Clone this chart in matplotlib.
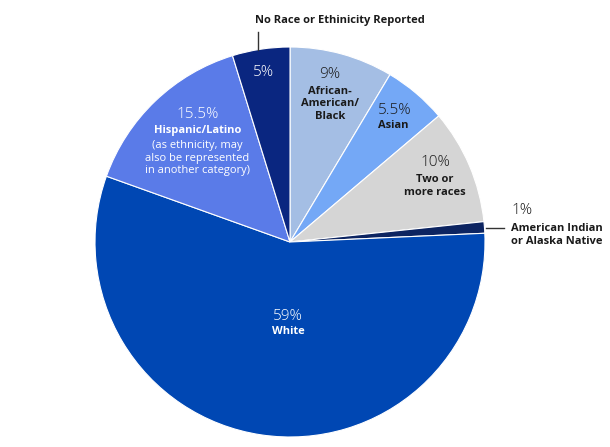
import matplotlib
matplotlib.use("Agg")
import matplotlib.pyplot as plt

plt.rcParams['font.family'] = ['Open Sans', 'DejaVu Sans']

categories = ["African-American/Black", "Asian", "Two or more races",
              "American Indian or Alaska Native", "White", "Hispanic/Latino",
              "No Race or Ethinicity Reported"]
values = [9, 5.5, 10, 1, 59, 15.5, 5]
pct_labels = ["9%", "5.5%", "10%", "1%", "59%", "15.5%", "5%"]
colors = ["#a4bee4", "#74a8f6", "#d5d5d5", "#0c2461", "#0047b3", "#5a7be8", "#0a2680"]

W, H = 610, 447
fig = plt.figure(figsize=(W / 100, H / 100), dpi=100)
cx, cy, R = 290, 242, 195
ax = fig.add_axes([(cx - R) / W, (H - cy - R) / H, 2 * R / W, 2 * R / H])
ax.pie(values, colors=colors, startangle=90, counterclock=False, radius=1,
       wedgeprops=dict(edgecolor="white", linewidth=0.8))
ax.set_xlim(-1, 1)
ax.set_ylim(-1, 1)
ax.set_aspect('equal')
ax.axis('off')


def P(px, py):
    return ((px - cx) / R, (cy - py) / R)


def txt(px, py, s, color, size, weight='normal', ha='center'):
    x, y = P(px, py)
    ax.text(x, y, s, color=color, fontsize=size, fontweight=weight,
            ha=ha, va='center', linespacing=1.2, clip_on=False)

dark = "#1a1a1a"
PS = 11
LS = 8
# African-American/Black
txt(330, 75, pct_labels[0], dark, PS, 'light')
txt(330, 104, "African-\nAmerican/\nBlack", dark, LS, 'bold')
# Asian
txt(395, 111, pct_labels[1], dark, PS, 'light')
txt(393, 126, "Asian", dark, LS, 'bold')
# Two or more
txt(435, 163, pct_labels[2], dark, PS, 'light')
txt(435, 186, "Two or\nmore races", dark, LS, 'bold')
# American Indian
txt(511, 211, pct_labels[3], dark, PS, 'light', ha='left')
txt(511, 235, "American Indian\nor Alaska Native", dark, LS, 'bold', ha='left')
x0, y0 = P(486, 228)
x1, y1 = P(504, 228)
ax.plot([x0, x1], [y0, y1], color="#333333", lw=1, clip_on=False)
# White
txt(288, 316, pct_labels[4], "white", PS, 'light')
txt(288, 332, "White", "white", LS, 'bold')
# Hispanic
txt(198, 114, pct_labels[5], "white", PS, 'light')
txt(198, 130, "Hispanic/Latino", "white", LS, 'bold')
txt(197, 158, "(as ethnicity, may\nalso be represented\nin another category)", "white", LS)
# No race
txt(263, 73, pct_labels[6], "white", PS, 'light')
txt(340, 21, "No Race or Ethinicity Reported", dark, LS, 'bold')
x0, y0 = P(258, 32)
x1, y1 = P(258, 50)
ax.plot([x0, x1], [y0, y1], color="#333333", lw=1, clip_on=False)

fig.savefig("out.png", dpi=100, facecolor="white")
